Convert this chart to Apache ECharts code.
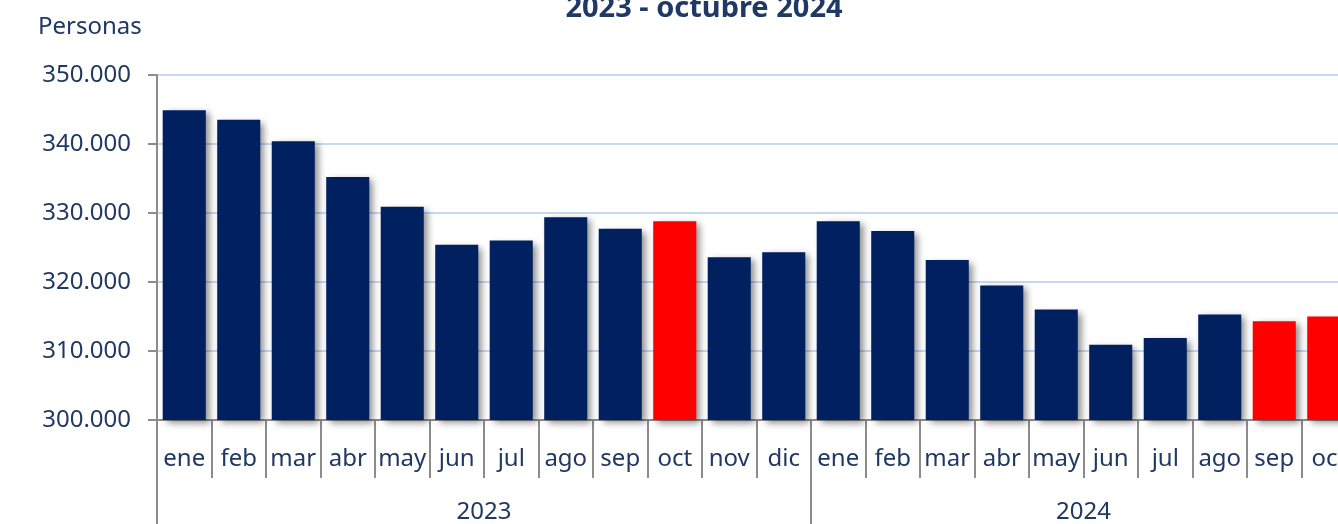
<!DOCTYPE html>
<html>
<head>
<meta charset="utf-8">
<script src="https://cdn.jsdelivr.net/npm/echarts@6/dist/echarts.min.js"></script>
<style>
  html, body { margin: 0; padding: 0; background: #fff; }
  #main { width: 1338px; height: 524px; }
</style>
</head>
<body>
<div id="main"></div>
<script>
var months = ['ene','feb','mar','abr','may','jun','jul','ago','sep','oct','nov','dic'];
var years = ['2023', '2024'];
var monthsPerYear = [12, 10];
var values2023 = [344900, 343500, 340400, 335200, 330900, 325400, 326000, 329400, 327700, 328800, 323600, 324300];
var values2024 = [328800, 327400, 323200, 319500, 316000, 310900, 311900, 315300, 314300, 315000];
var yMin = 300000, yMax = 350000, yStep = 10000;

// categorias "mes año" y valores seguidos
var categories = [];
var values = values2023.concat(values2024);
var boundaries = [0];   // donde empieza/termina cada año
var centers = [];       // centro de cada año para la etiqueta
var acc = 0;
years.forEach(function (y, i) {
    for (var m = 0; m < monthsPerYear[i]; m++) categories.push(months[m] + ' ' + y);
    centers.push(acc + monthsPerYear[i] / 2);
    acc += monthsPerYear[i];
    boundaries.push(acc);
});

var redBars = [9, 20, 21]; // oct 2023, sep 2024, oct 2024
var textColor = '#203864';
var font = 'Noto Sans';
var fs = 24;

var myChart = echarts.init(document.getElementById('main'));
var option = {
    backgroundColor: '#ffffff',
    animation: false,
    title: [
        {
            text: '2023 - octubre 2024',
            left: 699,
            textAlign: 'center',
            top: -11,
            textStyle: { color: textColor, fontSize: 29, fontWeight: 'bold', fontFamily: font }
        },
        {
            text: 'Personas',
            left: 33,
            top: 10,
            textStyle: { color: textColor, fontSize: fs, fontWeight: 'normal', fontFamily: font }
        }
    ],
    // el gráfico original sigue más allá del borde derecho
    grid: { left: 157, width: 1199, top: 75, bottom: 104, outerBoundsMode: 'none', containLabel: false },
    xAxis: [
        {
            type: 'category',
            data: categories,
            axisLine: { show: true, lineStyle: { color: '#8c8c8c', width: 2 } },
            axisTick: { show: true, interval: 0, length: 58, lineStyle: { color: '#8c8c8c', width: 2 } },
            axisLabel: {
                interval: 0,
                margin: 27,
                color: textColor,
                fontSize: fs,
                fontFamily: font,
                formatter: function (v) { return v.split(' ')[0]; }
            }
        },
        {
            type: 'value',
            min: 0,
            max: acc,
            position: 'bottom',
            axisLine: { show: false },
            splitLine: { show: false },
            axisTick: {
                show: true,
                customValues: boundaries,
                length: 110,
                lineStyle: { color: '#8c8c8c', width: 2 }
            },
            axisLabel: {
                customValues: centers,
                margin: 80,
                color: textColor,
                fontSize: fs,
                fontFamily: font,
                formatter: function (v) {
                    var i = centers.indexOf(v);
                    return i >= 0 ? years[i] : '';
                }
            }
        }
    ],
    yAxis: {
        type: 'value',
        min: yMin,
        max: yMax,
        interval: yStep,
        axisLine: { show: true, lineStyle: { color: '#8c8c8c', width: 2 } },
        axisTick: { show: true, length: 9, lineStyle: { color: '#8c8c8c', width: 2 } },
        splitLine: { show: true, lineStyle: { color: '#c6d9f1', width: 2 } },
        axisLabel: {
            margin: 26,
            color: textColor,
            fontSize: fs,
            fontFamily: font,
            formatter: function (v) {
                return String(v).replace(/\B(?=(\d{3})+(?!\d))/g, '.');
            }
        }
    },
    series: [
        {
            type: 'bar',
            xAxisIndex: 0,
            data: values,
            barCategoryGap: '21%',
            itemStyle: {
                color: function (p) { return redBars.indexOf(p.dataIndex) >= 0 ? '#ff0000' : '#002060'; },
                shadowColor: 'rgba(0,0,0,0.45)',
                shadowBlur: 7,
                shadowOffsetX: 4,
                shadowOffsetY: 3
            }
        }
    ]
};
myChart.setOption(option);
</script>
</body>
</html>
